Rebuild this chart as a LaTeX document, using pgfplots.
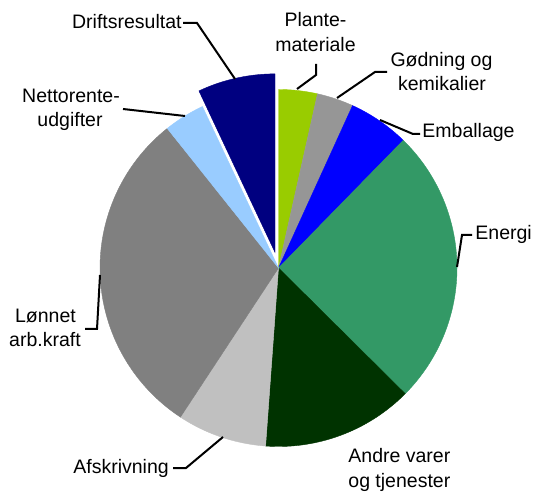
\documentclass[border=0pt]{standalone}
\usepackage{pgfplots}
\usepackage{pgfplotstable}
\pgfplotsset{compat=1.18}
\usepackage{fontspec}
\setmainfont{Liberation Sans}

\definecolor{c1}{HTML}{99CC00}
\definecolor{c2}{HTML}{969696}
\definecolor{c3}{HTML}{0000FF}
\definecolor{c4}{HTML}{339966}
\definecolor{c5}{HTML}{003300}
\definecolor{c6}{HTML}{C0C0C0}
\definecolor{c7}{HTML}{808080}
\definecolor{c8}{HTML}{99CCFF}
\definecolor{c9}{HTML}{000080}

% share of each cost item (percent), explode offset (px)
\pgfplotstableread{
label value explode
Plantemateriale 3.5 0
Godning 3.3 0
Emballage 5.5 0
Energi 25.1 0
Andre 13.7 0
Afskrivning 8.1 0
Lonnet 30.0 0
Nettorente 3.7 0
Driftsresultat 7.0 16
}\piedata

\gdef\total{0}
\foreach \i in {0,...,8}{%
  \pgfplotstablegetelem{\i}{value}\of\piedata
  \pgfmathsetmacro{\tmpsum}{\total+\pgfplotsretval}%
  \global\let\total\tmpsum
}
\gdef\cur{90}
\foreach \i in {1,...,9}{%
  \pgfmathtruncatemacro{\rr}{\i-1}%
  \pgfplotstablegetelem{\rr}{value}\of\piedata
  \pgfmathsetmacro{\nx}{\cur-360*\pgfplotsretval/\total}%
  \expandafter\xdef\csname sA\i\endcsname{\cur}%
  \expandafter\xdef\csname eA\i\endcsname{\nx}%
  \pgfplotstablegetelem{\rr}{explode}\of\piedata
  \pgfmathsetmacro{\ox}{278.5+\pgfplotsretval*cos((\cur+\nx)/2)}%
  \pgfmathsetmacro{\oy}{223+\pgfplotsretval*sin((\cur+\nx)/2)}%
  \expandafter\xdef\csname cxA\i\endcsname{\ox}%
  \expandafter\xdef\csname cyA\i\endcsname{\oy}%
  \global\let\cur\nx
}

\newcommand{\slice}[1]{%
  \edef\tmpplot{\noexpand\addplot[fill=c#1, draw=c#1, line width=0.2pt,
    domain=\csname eA#1\endcsname:\csname sA#1\endcsname, samples=90,
    variable=\noexpand\ang, forget plot]
    ({\csname cxA#1\endcsname+178.5*cos(\noexpand\ang)},
     {\csname cyA#1\endcsname+178.5*sin(\noexpand\ang)})
    -- (axis cs:\csname cxA#1\endcsname,\csname cyA#1\endcsname) -- cycle;}%
  \tmpplot
}

\begin{document}
\begin{tikzpicture}
\path[use as bounding box] (0,0) rectangle (266.5pt,245.5pt);
\begin{axis}[hide axis, scale only axis, width=266.5pt, height=245.5pt,
  xmin=0, xmax=533, ymin=0, ymax=491, clip=false]
\slice{1}\slice{2}\slice{3}\slice{4}\slice{5}\slice{6}\slice{7}\slice{8}\slice{9}

\tikzset{lbl/.style={inner sep=0pt, font=\fontsize{9.75}{12}\selectfont},
         ld/.style={line width=1pt, black}}
% labels (pixel coordinates, y measured from the bottom)
\node[lbl, anchor=base east] at (axis cs:182,462) {Driftsresultat};
\node[lbl, anchor=base] at (axis cs:71,388) {Nettorente-};
\node[lbl, anchor=base] at (axis cs:70,364) {udgifter};
\node[lbl, anchor=base] at (axis cs:315.5,464) {Plante-};
\node[lbl, anchor=base] at (axis cs:315.5,439) {materiale};
\node[lbl, anchor=base] at (axis cs:441.5,424) {Gødning og};
\node[lbl, anchor=base] at (axis cs:442,400) {kemikalier};
\node[lbl, anchor=base west] at (axis cs:422,353) {Emballage};
\node[lbl, anchor=base west] at (axis cs:475,251) {Energi};
\node[lbl, anchor=base] at (axis cs:45.5,168) {Lønnet};
\node[lbl, anchor=base] at (axis cs:45,144) {arb.kraft};
\node[lbl, anchor=base west] at (axis cs:73,18) {Afskrivning};
\node[lbl, anchor=base west] at (axis cs:348,29) {Andre varer};
\node[lbl, anchor=base west] at (axis cs:348,4) {og tjenester};
% leader lines
\draw[ld] (axis cs:183,468) -- (axis cs:197,468) -- (axis cs:235,412);
\draw[ld] (axis cs:123,382) -- (axis cs:185,375);
\draw[ld] (axis cs:316,427) -- (axis cs:316,416) -- (axis cs:297,402);
\draw[ld] (axis cs:387,419) -- (axis cs:375,419) -- (axis cs:337,393);
\draw[ld] (axis cs:420,357) -- (axis cs:413,357) -- (axis cs:380,371);
\draw[ld] (axis cs:472,256) -- (axis cs:462,256) -- (axis cs:457,224);
\draw[ld] (axis cs:85,162) -- (axis cs:97,162) -- (axis cs:100,216);
\draw[ld] (axis cs:173,23) -- (axis cs:186,23) -- (axis cs:223,54);
\end{axis}
\end{tikzpicture}
\end{document}
